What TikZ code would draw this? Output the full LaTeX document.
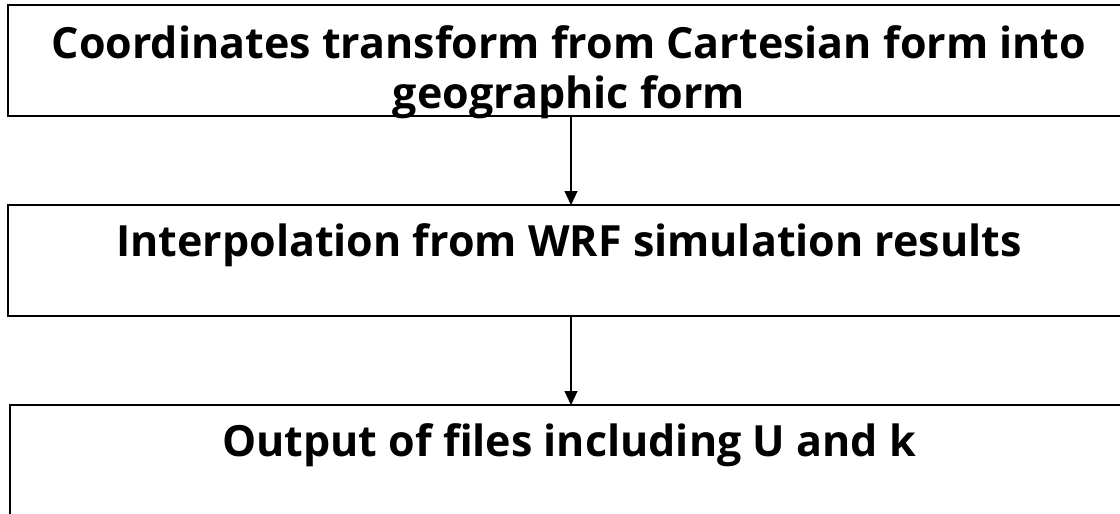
\documentclass[tikz,border=0pt]{standalone}
\usepackage{fontspec}
\setmainfont{Open Sans}
\usetikzlibrary{arrows.meta}
\begin{document}
\begin{tikzpicture}[x=1pt,y=1pt,
  boxstyle/.style={draw=black,line width=1.6pt,fill=white,rectangle,inner sep=0pt,outer sep=0pt},
  txt/.style={inner sep=0pt,outer sep=0pt,anchor=base,font=\bfseries\fontsize{43}{50}\selectfont},
  arr/.style={line width=1.2pt,-{Triangle[width=13pt,length=14pt]}}]
\useasboundingbox (0,0) rectangle (1120,-514);
\clip (0,0) rectangle (1120,-514);
\fill[white] (0,0) rectangle (1120,-514);
\node[boxstyle,minimum width=1122pt,minimum height=111pt] (b1) at (569,-60.5) {};
\node[boxstyle,minimum width=1122pt,minimum height=111pt] (b2) at (569,-260.5) {};
\node[boxstyle,minimum width=1120pt,minimum height=115pt] (b3) at (570,-462.5) {};
\node[txt] (t1a) at (569,-58) {Coordinates transform from Cartesian form into};
\node[txt] (t1b) at (569,-108) {geographic form};
\node[txt] (t2) at (569,-256) {Interpolation from WRF simulation results};
\node[txt] (t3) at (569,-456) {Output of files including U and k};
\draw[arr] (b1.south -| 571,0) -- (b2.north -| 571,0);
\draw[arr] (b2.south -| 571,0) -- (b3.north -| 571,0);
\end{tikzpicture}
\end{document}
